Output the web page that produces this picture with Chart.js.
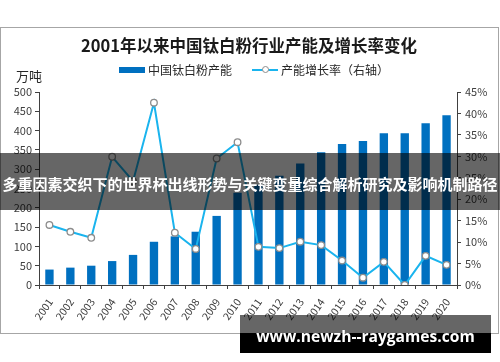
<!DOCTYPE html>
<html>
<head>
<meta charset="utf-8">
<script src="https://cdn.jsdelivr.net/npm/chart.js@4.4.0/dist/chart.umd.min.js"></script>
<style>
  html, body { margin: 0; padding: 0; background: #fff; }
  #wrap { position: relative; width: 500px; height: 362px; overflow: hidden;
          font-family: "Noto Sans CJK SC", "Noto Sans", sans-serif; }
  #frame { position: absolute; left: 0; top: 27px; width: 499px; height: 307px;
           border: 1.5px solid #a6a6a6; box-sizing: border-box; }
  #chart { position: absolute; left: 0; top: 0; }
  .txt { position: absolute; white-space: nowrap; color: #262626; }
  #title { left: 0; width: 498px; top: 33px; text-align: center; font-size: 16.5px; font-weight: bold; color: #1a1a1a; }
  #unit { left: 16px; top: 66px; font-size: 13px; }
  .lg { font-size: 12px; top: 61px; }
  #lgBar { position: absolute; left: 119px; top: 67px; width: 26px; height: 6px; background: #0070c0; }
  #lgLine { position: absolute; left: 252px; top: 68.5px; width: 26px; height: 2px; background: #1ab4ee; }
  #lgDot { position: absolute; left: 262px; top: 66px; width: 5px; height: 5px; border-radius: 50%;
           background: #fff; border: 1.2px solid #8c8c8c; }
  #banner { position: absolute; left: 0; top: 153px; width: 500px; height: 57px; background: rgba(0,0,0,0.6); }
  #bannerTxt { left: 0; width: 500px; top: 173px; text-align: center; font-size: 15px; font-weight: bold; color: #fff; }
  #wmGrey { position: absolute; left: 240px; top: 315px; width: 251px; height: 18px; background: rgba(0,0,0,0.6); }
  #wmBlack { position: absolute; left: 240px; top: 333px; width: 251px; height: 20px; background: #000; }
  #wmTxt { left: 240px; width: 251px; top: 325px; text-align: center; font-family: "Open Sans", sans-serif;
           font-size: 15.6px; font-weight: bold; color: #fff; }
</style>
</head>
<body>
<div id="wrap">
  <div id="frame"></div>
  <canvas id="chart" width="500" height="362"></canvas>
  <div class="txt" id="title">2001年以来中国钛白粉行业产能及增长率变化</div>
  <div class="txt" id="unit">万吨</div>
  <div id="lgBar"></div>
  <div class="txt lg" style="left:148px;">中国钛白粉产能</div>
  <div id="lgLine"></div>
  <div id="lgDot"></div>
  <div class="txt lg" style="left:281px;">产能增长率（右轴）</div>
  <div id="banner"></div>
  <div class="txt" id="bannerTxt">多重因素交织下的世界杯出线形势与关键变量综合解析研究及影响机制路径</div>
  <div id="wmGrey"></div>
  <div id="wmBlack"></div>
  <div class="txt" id="wmTxt">www.newzh--raygames.com</div>
</div>

<script>
// --- DATA ---
const years = ['2001', '2002', '2003', '2004', '2005', '2006', '2007', '2008', '2009', '2010',
               '2011', '2012', '2013', '2014', '2015', '2016', '2017', '2018', '2019', '2020'];
// capacity, 10k tonnes
const capacity = [40, 45, 50, 62, 78, 112, 126, 138, 179, 239,
                  260, 283, 315, 344, 365, 373, 393, 393, 419, 440];
// growth rate, %
const growth = [14.0, 12.4, 11.0, 29.9, 24.2, 42.5, 12.2, 8.4, 29.5, 33.3,
                8.9, 8.6, 10.1, 9.3, 5.7, 1.7, 5.4, 0, 6.8, 4.7];
const leftTicks = { min: 0, max: 500, step: 50 };
const rightTicks = { min: 0, max: 45, step: 5 };

const axisColor = '#404040';
const tickFont = { family: '"Noto Sans CJK SC", sans-serif', size: 11 };

new Chart(document.getElementById('chart'), {
    type: 'bar',
    data: {
        labels: years,
        datasets: [
            {
                type: 'line',
                label: '产能增长率（右轴）',
                data: growth,
                yAxisID: 'y1',
                borderColor: '#1ab4ee',
                borderWidth: 2,
                pointRadius: 3.3,
                pointBackgroundColor: '#fff',
                pointBorderColor: '#8c8c8c',
                pointBorderWidth: 1.3,
                tension: 0,
                order: 0 // on top of bars
            },
            {
                label: '中国钛白粉产能',
                data: capacity,
                yAxisID: 'y',
                backgroundColor: '#0070c0',
                categoryPercentage: 1,
                barPercentage: 0.4,
                order: 1
            }
        ]
    },
    options: {
        responsive: false,
        animation: false,
        layout: { padding: { top: 92, left: 0, right: 0, bottom: 0 } },
        plugins: { legend: { display: false }, tooltip: { enabled: false } },
        scales: {
            x: {
                grid: { offset: true, drawOnChartArea: false, drawTicks: true, tickLength: 4, color: axisColor },
                border: { color: axisColor },
                ticks: { minRotation: 55, maxRotation: 55, padding: 7, labelOffset: 1, color: axisColor,
                         font: { family: tickFont.family, size: 10.5 } },
                afterFit: s => { s.height = 77; }
            },
            y: {
                position: 'left',
                min: leftTicks.min,
                max: leftTicks.max,
                grid: { drawOnChartArea: false, tickLength: 4, color: axisColor },
                border: { color: axisColor },
                ticks: { stepSize: leftTicks.step, color: axisColor, font: tickFont, padding: 3 },
                afterFit: s => { s.width = 39; }
            },
            y1: {
                position: 'right',
                min: rightTicks.min,
                max: rightTicks.max,
                grid: { drawOnChartArea: false, tickLength: 4, color: axisColor },
                border: { color: axisColor },
                ticks: { stepSize: rightTicks.step, color: axisColor, font: tickFont, padding: 4,
                         callback: v => v + '%' },
                afterFit: s => { s.width = 43; }
            }
        }
    }
});
</script>
</body>
</html>
